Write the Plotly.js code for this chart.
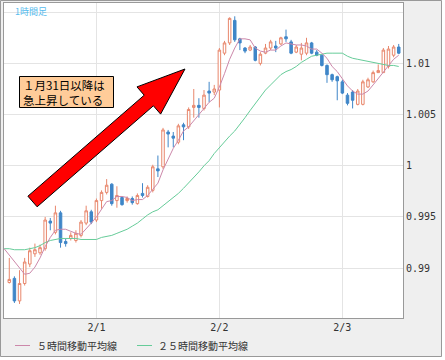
<!DOCTYPE html>
<html>
<head>
<meta charset="utf-8">
<script src="https://cdn.plot.ly/plotly-3.0.1.min.js"></script>
<style>
html,body{margin:0;padding:0;background:#ffffff;}
#chart{width:445px;height:360px;}
</style>
</head>
<body>
<div id="chart"></div>
<script>
// ---- data (1-hour candles, start 2022-01-31 07:00) ----
const candleOpen = [0.9886,0.9890,0.9868,0.9885,0.9904,0.9914,0.9915,0.9919,0.9946,0.9935,
  0.9954,0.9926,0.9929,0.9927,0.9932,0.9944,0.9955,0.9947,0.9966,0.9974,
  0.9982,0.9966,0.9969,0.9966,0.9968,0.9963,0.9973,0.9970,0.9976,0.9997,
  0.9999,1.0033,1.0029,1.0023,1.0040,1.0038,1.0057,1.0059,1.0056,1.0073,
  1.0072,1.0074,1.0110,1.0120,1.0142,1.0124,1.0115,1.0113,1.0116,1.0100,
  1.0110,1.0115,1.0117,1.0119,1.0126,1.0121,1.0111,1.0109,1.0110,1.0120,
  1.0111,1.0108,1.0098,1.0089,1.0087,1.0082,1.0069,1.0072,1.0060,1.0060,
  1.0077,1.0082,1.0091,1.0091,1.0097,1.0108,1.0116];
const candleHigh = [0.9910,0.9892,0.9898,0.9910,0.9920,0.9924,0.9923,0.9950,0.9949,0.9961,
  0.9956,0.9929,0.9935,0.9937,0.9947,0.9961,0.9957,0.9968,0.9976,0.9987,
  0.9983,0.9980,0.9970,0.9970,0.9970,0.9973,0.9983,0.9981,1.0001,1.0010,
  1.0037,1.0035,1.0033,1.0041,1.0042,1.0057,1.0075,1.0066,1.0074,1.0082,
  1.0079,1.0115,1.0122,1.0145,1.0146,1.0125,1.0116,1.0118,1.0117,1.0111,
  1.0119,1.0123,1.0122,1.0126,1.0133,1.0123,1.0118,1.0120,1.0125,1.0121,
  1.0113,1.0109,1.0099,1.0090,1.0088,1.0084,1.0071,1.0074,1.0075,1.0084,
  1.0086,1.0093,1.0099,1.0115,1.0117,1.0118,1.0119];
const candleLow = [0.9885,0.9866,0.9865,0.9883,0.9901,0.9911,0.9913,0.9917,0.9937,0.9933,
  0.9920,0.9921,0.9927,0.9925,0.9930,0.9942,0.9943,0.9945,0.9958,0.9972,
  0.9961,0.9959,0.9961,0.9964,0.9962,0.9962,0.9969,0.9969,0.9974,0.9989,
  0.9997,1.0018,1.0018,1.0021,1.0025,1.0036,1.0047,1.0047,1.0054,1.0062,
  1.0069,1.0057,1.0108,1.0118,1.0121,1.0113,1.0110,1.0112,1.0102,1.0098,
  1.0109,1.0113,1.0111,1.0118,1.0121,1.0109,1.0110,1.0103,1.0108,1.0109,
  1.0107,1.0097,1.0081,1.0082,1.0064,1.0070,1.0059,1.0056,1.0059,1.0059,
  1.0076,1.0081,1.0091,1.0091,1.0095,1.0106,1.0109];
const candleClose = [0.9889,0.9868,0.9885,0.9906,0.9917,0.9918,0.9920,0.9947,0.9944,0.9954,
  0.9925,0.9924,0.9932,0.9934,0.9945,0.9956,0.9945,0.9966,0.9974,0.9981,
  0.9963,0.9971,0.9962,0.9968,0.9964,0.9971,0.9971,0.9979,0.9999,0.9995,
  1.0035,1.0031,1.0027,1.0039,1.0038,1.0055,1.0059,1.0057,1.0069,1.0071,
  1.0075,1.0113,1.0120,1.0144,1.0123,1.0120,1.0112,1.0116,1.0103,1.0109,
  1.0115,1.0121,1.0115,1.0125,1.0124,1.0110,1.0116,1.0115,1.0120,1.0110,
  1.0108,1.0098,1.0089,1.0084,1.0083,1.0071,1.0061,1.0064,1.0073,1.0082,
  1.0084,1.0091,1.0093,1.0113,1.0114,1.0116,1.0110];
// moving averages start one hour before the first candle (2022-01-31 06:00)
const ma5 = [0.9919,0.9913,0.9907,0.9901,0.9894,0.9895,0.9901,0.9910,0.9921,0.9930,
  0.9937,0.9938,0.9938,0.9936,0.9934,0.9933,0.9938,0.9944,0.9950,0.9958,
  0.9965,0.9966,0.9970,0.9970,0.9969,0.9966,0.9967,0.9967,0.9971,0.9977,
  0.9983,0.9996,1.0007,1.0017,1.0025,1.0034,1.0038,1.0044,1.0049,1.0055,
  1.0062,1.0066,1.0077,1.0090,1.0104,1.0115,1.0124,1.0124,1.0123,1.0115,
  1.0112,1.0111,1.0113,1.0113,1.0117,1.0120,1.0119,1.0118,1.0118,1.0117,
  1.0114,1.0114,1.0110,1.0105,1.0097,1.0092,1.0085,1.0078,1.0073,1.0070,
  1.0070,1.0073,1.0079,1.0085,1.0092,1.0098,1.0104,1.0108];
const ma25 = [0.9919,0.9919,0.9918,0.9918,0.9918,0.9919,0.9920,0.9922,0.9925,0.9927,
  0.9928,0.9929,0.9929,0.9929,0.9929,0.9928,0.9928,0.9928,0.9928,0.9930,
  0.9931,0.9932,0.9934,0.9936,0.9938,0.9941,0.9944,0.9948,0.9952,0.9955,
  0.9957,0.9961,0.9965,0.9969,0.9973,0.9978,0.9983,0.9988,0.9994,1.0000,
  1.0005,1.0012,1.0018,1.0023,1.0029,1.0034,1.0040,1.0047,1.0054,1.0061,
  1.0068,1.0074,1.0079,1.0084,1.0089,1.0092,1.0094,1.0097,1.0101,1.0104,
  1.0107,1.0108,1.0109,1.0110,1.0110,1.0110,1.0110,1.0107,1.0105,1.0104,
  1.0103,1.0102,1.0101,1.0100,1.0099,1.0098,1.0098,1.0097];
const yTickVals = [0.99, 0.995, 1, 1.005, 1.01, 1.015];
const yTickText = ['0.99', '0.995', '1', '1.005', '1.01', ''];
const ma5Name = '５時間移動平均線';
const ma25Name = '２５時間移動平均線';
const noteLines = ['１月31日以降は', '急上昇している'];
const chartLabel = '1時間足';

// hourly time stamps
function hourStamp(h) {
  const base = Date.UTC(2022, 0, 31, 6);
  return new Date(base + h * 3600000).toISOString().slice(0, 16).replace('T', ' ');
}
const maTimes = ma5.map((_, i) => hourStamp(i));
const candleTimes = candleOpen.map((_, i) => hourStamp(i + 1));

const colUp = '#e8876c', colDown = '#3f86c8', colMa5 = '#cc88aa', colMa25 = '#66cc99';

const traces = [
  {type: 'scatter', mode: 'lines', x: maTimes, y: ma25, line: {color: colMa25, width: 1}, hoverinfo: 'skip', showlegend: false, name: ma25Name},
  {type: 'scatter', mode: 'lines', x: maTimes, y: ma5, line: {color: colMa5, width: 1}, hoverinfo: 'skip', showlegend: false, name: ma5Name},
  {type: 'candlestick', x: candleTimes, open: candleOpen, high: candleHigh, low: candleLow, close: candleClose,
   increasing: {line: {color: colUp, width: 1}, fillcolor: '#ffffff'},
   decreasing: {line: {color: colDown, width: 1}, fillcolor: colDown},
   whiskerwidth: 0, hoverinfo: 'skip', showlegend: false}
];

// pixel helpers for decorations (plot area: x 4..403, y 3..318)
const PL = 4, PW = 399, PB = 318, PH = 315;
const px = v => (v - PL) / PW;
const py = v => (PB - v) / PH;

const arrowPts = [[27.9,196.2],[144.2,95.2],[137.0,86.9],[185,69],[160.6,114.1],[153.4,105.8],[37.1,206.8]];
const arrowPath = 'M ' + arrowPts.map(p => px(p[0]).toFixed(4) + ',' + py(p[1]).toFixed(4)).join(' L ') + ' Z';

const shapes = [
  {type: 'rect', xref: 'paper', yref: 'paper', x0: px(0.5), x1: px(441.5), y0: py(356.5), y1: py(0.5), line: {color: '#999999', width: 1}, fillcolor: 'rgba(0,0,0,0)', layer: 'above'},
  {type: 'rect', xref: 'paper', yref: 'paper', x0: px(442), x1: px(446), y0: py(361), y1: py(-1), line: {width: 0}, fillcolor: '#ffffff', layer: 'above'},
  {type: 'rect', xref: 'paper', yref: 'paper', x0: px(-1), x1: px(446), y0: py(361), y1: py(357), line: {width: 0}, fillcolor: '#ffffff', layer: 'above'},
  {type: 'path', xref: 'paper', yref: 'paper', path: arrowPath, fillcolor: '#ff0000', line: {color: '#000000', width: 1}, layer: 'above'},
  {type: 'rect', xref: 'paper', yref: 'paper', x0: px(19.5), x1: px(113.5), y0: py(107.5), y1: py(76.5), fillcolor: '#ffcc99', line: {color: '#000000', width: 1}, layer: 'above'},
  {type: 'line', xref: 'paper', yref: 'paper', x0: px(15), x1: px(30), y0: py(345.5), y1: py(345.5), line: {color: colMa5, width: 1}},
  {type: 'line', xref: 'paper', yref: 'paper', x0: px(137), x1: px(152), y0: py(345.5), y1: py(345.5), line: {color: colMa25, width: 1}}
];

const cjk = '"Noto Sans CJK JP", "Noto Sans", sans-serif';
const annotations = [
  {xref: 'paper', yref: 'paper', x: px(21), y: py(92), xanchor: 'left', yanchor: 'middle', align: 'left',
   text: noteLines.join('<br>'), showarrow: false, font: {family: cjk, size: 11.5, color: '#000000'}},
  {xref: 'paper', yref: 'paper', x: px(13), y: py(11), xanchor: 'left', yanchor: 'middle', text: chartLabel, showarrow: false, font: {family: cjk, size: 9, color: '#55bbee'}},
  {xref: 'paper', yref: 'paper', x: px(35), y: py(346), xanchor: 'left', yanchor: 'middle', text: ma5Name, showarrow: false, font: {family: cjk, size: 10, color: '#333333'}},
  {xref: 'paper', yref: 'paper', x: px(156), y: py(346), xanchor: 'left', yanchor: 'middle', text: ma25Name, showarrow: false, font: {family: cjk, size: 10, color: '#333333'}}
];

const monoFont = {family: '"DejaVu Sans Mono", monospace', size: 10, color: '#333333'};

const layout = {
  width: 445, height: 360,
  margin: {l: PL, r: 445 - PL - PW, t: 3, b: 360 - PB},
  paper_bgcolor: '#efefef',
  plot_bgcolor: '#ffffff',
  showlegend: false,
  xaxis: {
    type: 'date',
    range: ['2022-01-31 05:58', '2022-02-03 11:50'],
    tick0: '2022-02-01', dtick: 86400000, tickformat: '%-m/%-d',
    showgrid: true, gridcolor: '#e4e4e4', gridwidth: 1,
    zeroline: false, ticks: '', tickfont: monoFont,
    showline: true, linecolor: '#999999', linewidth: 1, mirror: true,
    rangeslider: {visible: false}, fixedrange: true
  },
  yaxis: {
    side: 'right',
    range: [0.98513, 1.0159],
    tickmode: 'array', tickvals: yTickVals, ticktext: yTickText,
    showgrid: true, gridcolor: '#e4e4e4', gridwidth: 1,
    zeroline: false, ticks: '', tickfont: monoFont,
    showline: true, linecolor: '#999999', linewidth: 1, mirror: true,
    fixedrange: true
  },
  shapes: shapes,
  annotations: annotations
};

Plotly.newPlot('chart', traces, layout, {staticPlot: true, displayModeBar: false});
</script>
</body>
</html>
